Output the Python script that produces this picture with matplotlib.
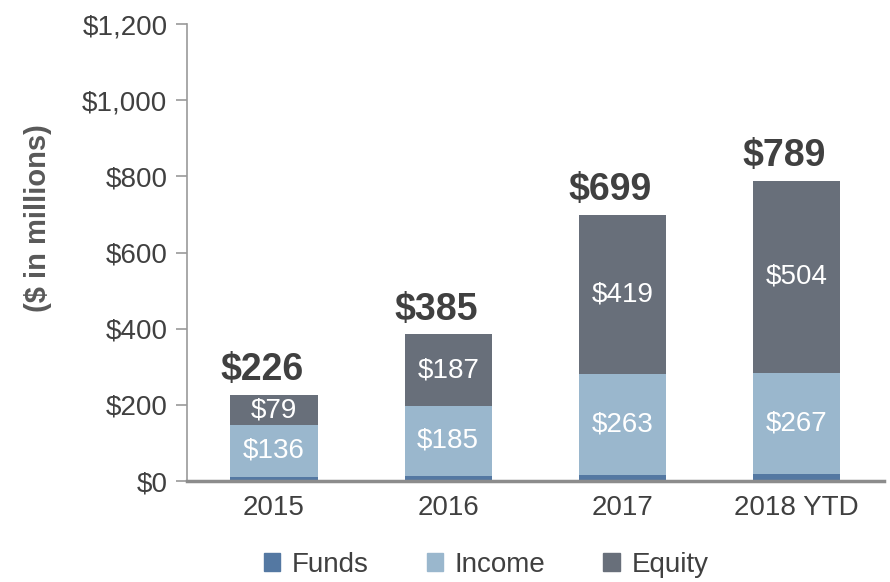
import matplotlib
matplotlib.use('Agg')
from matplotlib import pyplot
from matplotlib import font_manager
from matplotlib.patches import Patch

years = ['2015', '2016', '2017', '2018 YTD']
funds = [11, 13, 17, 18]
income = [136, 185, 263, 267]
equity = [79, 187, 419, 504]
totals = [226, 385, 699, 789]

funds_colour = '#5478A2'
income_colour = '#9AB7CD'
equity_colour = '#686F7A'
text_colour = '#404040'

names = {f.name for f in font_manager.fontManager.ttflist}
font = 'Liberation Sans Narrow' if 'Liberation Sans Narrow' in names else 'Liberation Sans'
pyplot.rcParams['font.family'] = [font, 'DejaVu Sans']

fig = pyplot.figure(figsize=(8.9, 5.82), dpi=100)
ax = fig.add_axes([0.210, 0.1735, 0.783, 0.785])

x = list(range(len(years)))
width = 0.5
bottom_income = funds
bottom_equity = [f + i for f, i in zip(funds, income)]

ax.bar(x, funds, width, color=funds_colour, label='Funds')
ax.bar(x, income, width, bottom=bottom_income, color=income_colour, label='Income')
ax.bar(x, equity, width, bottom=bottom_equity, color=equity_colour, label='Equity')

# Segment labels
for xi, f, i, e in zip(x, funds, income, equity):
    ax.text(xi, f + i / 2, '$%d' % i, ha='center', va='center',
            color='white', fontsize=20)
    ax.text(xi, f + i + e / 2, '$%d' % e, ha='center', va='center',
            color='white', fontsize=20)

# Totals above bars
for xi, t in zip(x, totals):
    ax.text(xi - 0.07, t + 18, '$%d' % t, ha='center', va='bottom',
            color=text_colour, fontsize=27, fontweight='bold')

ax.set_xlim(-0.5, 3.5)
ax.set_ylim(0, 1200)
ax.set_yticks(range(0, 1201, 200))
ax.set_yticklabels(['${:,}'.format(v) for v in range(0, 1201, 200)])
ax.set_xticks(x)
ax.set_xticklabels(years)

for side in ('top', 'right'):
    ax.spines[side].set_visible(False)
ax.spines['left'].set_color('#999999')
ax.spines['left'].set_linewidth(1.2)
ax.spines['bottom'].set_color('#8C8C8C')
ax.spines['bottom'].set_linewidth(2.5)

ax.tick_params(axis='y', direction='out', length=8, width=1.2, color='#999999',
               labelsize=20, labelcolor=text_colour, pad=6)
ax.tick_params(axis='x', length=0, labelsize=20, labelcolor=text_colour, pad=10)

ax.set_ylabel('($ in millions)', fontsize=21, fontweight='bold',
              color='#595959')
ax.yaxis.set_label_coords(-0.194, 0.575)

handles = [Patch(color=funds_colour, label='Funds'),
           Patch(color=income_colour, label='Income'),
           Patch(color=equity_colour, label='Equity')]
leg = fig.legend(handles=handles, loc='center', bbox_to_anchor=(0.546, 0.03),
                 ncol=3, frameon=False, fontsize=20, handlelength=0.6,
                 handleheight=0.6, handletextpad=0.4, columnspacing=2.1)
for t in leg.get_texts():
    t.set_color(text_colour)

pyplot.savefig('out.png', dpi=100)
